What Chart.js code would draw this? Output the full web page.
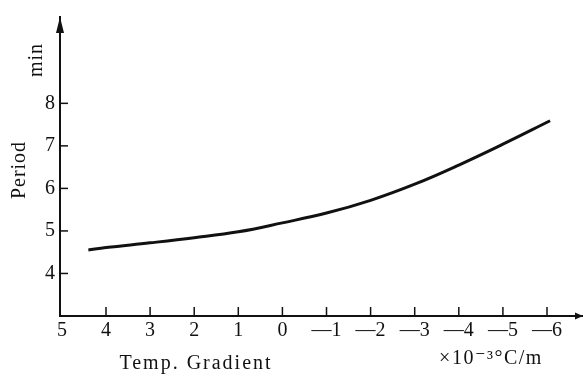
<!DOCTYPE html>
<html lang="en">
<head>
    <meta charset="UTF-8">
    <title>Period vs Temp. Gradient</title>
    <script src="https://cdn.jsdelivr.net/npm/chart.js"></script>
    <style>
        html, body {
            margin: 0;
            padding: 0;
            background: #fff;
        }
        #chart-container {
            width: 583px;
            height: 380px;
        }
    </style>
</head>
<body>
    <div id="chart-container">
        <canvas id="periodChart"></canvas>
    </div>

    <script>
        // values
        const gradient = [4.40, 4, 3, 2, 1, 0, -1, -2, -3, -4, -5, -6.07];
        const period = [4.55, 4.61, 4.72, 4.84, 4.98, 5.19, 5.42, 5.72, 6.10, 6.55, 7.04, 7.59];

        const xTicks = [5, 4, 3, 2, 1, 0, -1, -2, -3, -4, -5, -6];
        const yTicks = [4, 5, 6, 7, 8];

        const serif = "'Liberation Serif', 'DejaVu Serif', serif";
        const ink = '#111';

        const axisExtras = {
            id: 'axisExtras',
            afterDraw(chart) {
                const c = chart.ctx;
                const area = chart.chartArea;
                const xs = chart.scales.x;
                const ys = chart.scales.y;
                c.save();
                c.strokeStyle = ink;
                c.fillStyle = ink;
                c.lineWidth = 1.5;

                // inward tick marks
                xTicks.forEach(v => {
                    if (v === 5) return;
                    const px = xs.getPixelForValue(v);
                    c.beginPath();
                    c.moveTo(px, area.bottom);
                    c.lineTo(px, area.bottom - 9);
                    c.stroke();
                });
                yTicks.forEach(v => {
                    const py = ys.getPixelForValue(v);
                    c.beginPath();
                    c.moveTo(area.left, py);
                    c.lineTo(area.left + 8, py);
                    c.stroke();
                });

                // arrow heads
                c.beginPath();
                c.moveTo(area.left, area.top);
                c.lineTo(area.left - 4, area.top + 16);
                c.lineTo(area.left + 4, area.top + 16);
                c.closePath();
                c.fill();

                c.beginPath();
                c.moveTo(area.right, area.bottom);
                c.lineTo(area.right - 8, area.bottom - 3.5);
                c.lineTo(area.right - 8, area.bottom + 3.5);
                c.closePath();
                c.fill();

                // axis titles
                c.font = '20px ' + serif;
                c.letterSpacing = '2px';
                c.textAlign = 'center';
                c.textBaseline = 'middle';
                c.fillText('Temp. Gradient', 196, 364);
                c.letterSpacing = '1.5px';
                c.fillText('\u00d710\u207b\u00b3\u00b0C/m', 491, 359);

                c.save();
                c.translate(37, 60);
                c.rotate(-Math.PI / 2);
                c.letterSpacing = '1px';
                c.fillText('min', 0, 0);
                c.restore();

                c.save();
                c.translate(20, 170);
                c.rotate(-Math.PI / 2);
                c.letterSpacing = '1px';
                c.fillText('Period', 0, 0);
                c.restore();

                c.restore();
            }
        };

        const ctx = document.getElementById('periodChart').getContext('2d');
        const periodChart = new Chart(ctx, {
            type: 'scatter',
            data: {
                datasets: [{
                    label: 'Period',
                    data: gradient.map((g, i) => ({ x: g, y: period[i] })),
                    showLine: true,
                    borderColor: ink,
                    borderWidth: 3,
                    pointRadius: 0,
                    tension: 0.4,
                    fill: false
                }]
            },
            options: {
                responsive: true,
                maintainAspectRatio: false,
                animation: false,
                layout: { padding: { top: 5, right: 0, left: 0, bottom: 0 } },
                plugins: {
                    legend: { display: false },
                    tooltip: { enabled: false }
                },
                scales: {
                    x: {
                        type: 'linear',
                        reverse: true,
                        min: -6.816,
                        max: 5.043,
                        afterBuildTicks: s => { s.ticks = xTicks.map(v => ({ value: v })); },
                        afterFit: s => { s.height = 64; },
                        grid: { display: false, drawTicks: false },
                        border: { display: true, color: ink, width: 2 },
                        ticks: {
                            padding: 3,
                            color: ink,
                            font: { family: serif, size: 20 },
                            callback: v => (v < 0 ? '\u2014' + Math.abs(v) : String(v))
                        }
                    },
                    y: {
                        type: 'linear',
                        min: 3,
                        max: 10.03,
                        afterBuildTicks: s => { s.ticks = yTicks.map(v => ({ value: v })); },
                        afterFit: s => { s.width = 60; },
                        grid: { display: false, drawTicks: false },
                        border: { display: true, color: ink, width: 2 },
                        ticks: {
                            padding: 5,
                            color: ink,
                            font: { family: serif, size: 20 }
                        }
                    }
                }
            },
            plugins: [axisExtras]
        });
    </script>
</body>
</html>
